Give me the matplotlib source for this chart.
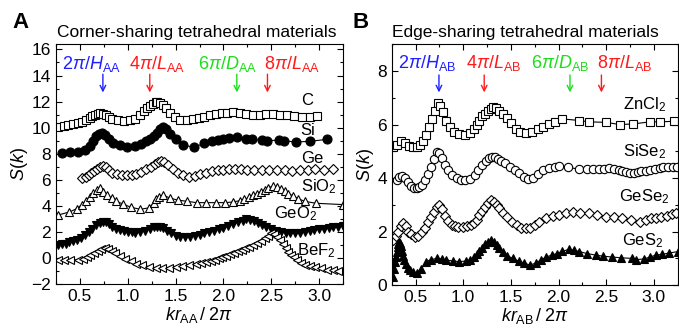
import matplotlib
matplotlib.use("Agg")
import matplotlib.pyplot as plt
from matplotlib.ticker import MultipleLocator

plt.rcParams['font.family'] = ['Liberation Sans', 'DejaVu Sans']
plt.rcParams['mathtext.fontset'] = 'custom'
plt.rcParams['mathtext.rm'] = 'Liberation Sans'
plt.rcParams['mathtext.it'] = 'Liberation Sans:italic'
plt.rcParams['mathtext.bf'] = 'Liberation Sans:bold'

# ---- panel A: corner-sharing ----
c_x = [0.27, 0.33, 0.38, 0.43, 0.48, 0.52, 0.56, 0.60, 0.63, 0.66, 0.69, 0.71, 0.74, 0.77, 0.80, 0.84, 0.90, 0.96,
       1.02, 1.08, 1.13, 1.17, 1.20, 1.23, 1.26, 1.29, 1.31, 1.34, 1.37, 1.40, 1.44, 1.49, 1.55, 1.62, 1.68, 1.74,
       1.80, 1.86, 1.92, 1.98, 2.04, 2.10, 2.17, 2.24, 2.31, 2.38, 2.45, 2.52, 2.59, 2.66, 2.74, 2.82, 2.90, 2.98]
c_y = [10.06, 10.12, 10.2, 10.28, 10.35, 10.45, 10.6, 10.75, 10.88, 10.98, 11.05, 11.1, 11.05, 10.95, 10.8, 10.7,
       10.6, 10.52, 10.55, 10.7, 10.95, 11.25, 11.5, 11.7, 11.85, 11.95, 11.98, 11.9, 11.75, 11.5, 11.15, 10.85,
       10.62, 10.58, 10.65, 10.75, 10.85, 10.95, 11.02, 11.1, 11.15, 11.19, 11.12, 11.05, 11.0, 11.0, 11.02, 11.05,
       11.0, 10.95, 10.88, 10.85, 10.85, 10.88]

si_x = [0.31, 0.40, 0.48, 0.55, 0.60, 0.64, 0.67, 0.70, 0.73, 0.76, 0.80, 0.85, 0.92, 0.99, 1.08, 1.14, 1.19, 1.23,
        1.27, 1.31, 1.34, 1.37, 1.40, 1.44, 1.50, 1.58, 1.69, 1.80, 1.88, 1.94, 2.00, 2.06, 2.14, 2.24, 2.30, 2.40,
        2.46, 2.58, 2.63, 2.76, 2.90, 3.08]
si_y = [8.07, 8.1, 8.12, 8.3, 8.6, 8.95, 9.35, 9.5, 9.58, 9.4, 9.1, 8.85, 8.65, 8.53, 8.58, 8.75, 8.95, 9.15, 9.35,
        9.6, 9.9, 10.06, 9.9, 9.55, 9.1, 8.66, 8.5, 8.8, 8.95, 9.05, 9.1, 9.2, 9.3, 9.15, 9.1, 9.05, 9.0, 9.05, 9.0,
        8.9, 8.95, 9.1]

ge_x = [0.52, 0.56, 0.59, 0.62, 0.65, 0.68, 0.71, 0.74, 0.77, 0.80, 0.84, 0.89, 0.94, 0.99, 1.04, 1.09, 1.14, 1.19,
        1.24, 1.28, 1.32, 1.35, 1.38, 1.42, 1.47, 1.52, 1.58, 1.64, 1.70, 1.76, 1.82, 1.88, 1.94, 2.00, 2.06, 2.12,
        2.18, 2.25, 2.32, 2.40, 2.48, 2.56, 2.64, 2.72, 2.80, 2.88, 2.96, 3.05, 3.14]
ge_y = [6.11, 6.25, 6.4, 6.55, 6.7, 6.85, 6.95, 7.05, 6.95, 6.75, 6.55, 6.42, 6.38, 6.36, 6.38, 6.45, 6.6, 6.8, 7.0,
        7.2, 7.35, 7.46, 7.4, 7.15, 6.85, 6.55, 6.35, 6.23, 6.3, 6.45, 6.55, 6.65, 6.72, 6.78, 6.82, 6.85, 6.82, 6.78,
        6.75, 6.75, 6.72, 6.75, 6.72, 6.7, 6.72, 6.75, 6.8, 6.78, 6.8]

sio2_x = [0.27, 0.39, 0.47, 0.52, 0.56, 0.60, 0.64, 0.68, 0.71, 0.74, 0.78, 0.83, 0.88, 0.95, 1.03, 1.13, 1.22, 1.27,
          1.30, 1.33, 1.37, 1.44, 1.52, 1.62, 1.72, 1.82, 1.92, 2.02, 2.10, 2.17, 2.22, 2.27, 2.31, 2.35, 2.39, 2.43,
          2.47, 2.52, 2.56, 2.60, 2.64, 2.68, 2.73, 2.78, 2.85, 2.97, 3.25]
sio2_y = [3.3, 3.53, 3.8, 4.1, 4.4, 4.7, 5.0, 5.2, 5.34, 5.1, 4.85, 4.6, 4.35, 4.15, 3.9, 3.74, 3.85, 4.2, 4.5, 4.7,
          4.83, 4.6, 4.45, 4.35, 4.25, 4.25, 4.25, 4.25, 4.3, 4.4, 4.5, 4.65, 4.8, 4.95, 5.1, 5.25, 5.4, 5.52, 5.45,
          5.3, 5.15, 4.95, 4.75, 4.55, 4.35, 4.2, 4.1]

geo2_x = [0.27, 0.31, 0.35, 0.39, 0.43, 0.47, 0.51, 0.55, 0.59, 0.63, 0.67, 0.71, 0.74, 0.77, 0.80, 0.84, 0.88, 0.92,
          0.96, 1.00, 1.04, 1.08, 1.13, 1.18, 1.23, 1.27, 1.31, 1.34, 1.37, 1.41, 1.45, 1.50, 1.55, 1.60, 1.65, 1.70,
          1.75, 1.80, 1.85, 1.90, 1.95, 2.00, 2.05, 2.10, 2.15, 2.20, 2.24, 2.28, 2.32, 2.36, 2.40, 2.45, 2.50, 2.55,
          2.60, 2.65, 2.70, 2.75, 2.80, 2.85, 2.90, 2.95, 3.00, 3.05, 3.10, 3.15, 3.20, 3.25]
geo2_y = [1.0, 1.05, 1.1, 1.2, 1.3, 1.4, 1.55, 1.75, 2.0, 2.25, 2.5, 2.7, 2.78, 2.75, 2.6, 2.4, 2.25, 2.15, 2.08,
          2.02, 1.98, 1.95, 1.98, 2.1, 2.25, 2.35, 2.4, 2.38, 2.3, 2.1, 1.9, 1.72, 1.63, 1.6, 1.63, 1.7, 1.8, 1.9,
          2.0, 2.1, 2.2, 2.3, 2.45, 2.6, 2.75, 2.88, 2.99, 2.95, 2.85, 2.7, 2.55, 2.4, 2.25, 2.1, 2.0, 1.95, 1.92,
          1.9, 1.95, 2.0, 2.1, 2.15, 2.2, 2.25, 2.3, 2.35, 2.4, 2.42]

bef2_x = [0.27, 0.33, 0.40, 0.48, 0.53, 0.57, 0.61, 0.65, 0.69, 0.72, 0.76, 0.79, 0.83, 0.87, 0.92, 0.97, 1.03, 1.09,
          1.15, 1.22, 1.29, 1.36, 1.43, 1.50, 1.57, 1.64, 1.71, 1.77, 1.82, 1.87, 1.91, 1.95, 1.99, 2.03, 2.07, 2.11,
          2.15, 2.19, 2.23, 2.27, 2.31, 2.35, 2.39, 2.43, 2.47, 2.50, 2.53, 2.56, 2.59, 2.62, 2.65, 2.68, 2.71, 2.74,
          2.77, 2.81, 2.85, 2.90, 2.96, 3.02, 3.08, 3.14, 3.20]
bef2_y = [-0.15, -0.15, -0.15, -0.15, -0.05, 0.1, 0.25, 0.4, 0.55, 0.68, 0.74, 0.7, 0.55, 0.35, 0.15, -0.05, -0.25,
          -0.42, -0.55, -0.65, -0.75, -0.79, -0.75, -0.68, -0.6, -0.52, -0.45, -0.38, -0.3, -0.22, -0.12, -0.02,
          0.08, 0.18, 0.3, 0.42, 0.52, 0.62, 0.75, 0.88, 1.0, 1.13, 1.3, 1.5, 1.72, 1.9, 1.85, 1.65, 1.4, 1.1, 0.8,
          0.5, 0.25, 0.05, -0.15, -0.35, -0.5, -0.62, -0.72, -0.8, -0.88, -0.95, -1.02]

# ---- panel B: edge-sharing ----
zncl2_x = [0.26, 0.30, 0.35, 0.39, 0.43, 0.47, 0.51, 0.55, 0.58, 0.61, 0.64, 0.67, 0.70, 0.73, 0.76, 0.79, 0.82,
           0.86, 0.90, 0.96, 1.02, 1.07, 1.11, 1.14, 1.17, 1.20, 1.23, 1.26, 1.29, 1.31, 1.34, 1.38, 1.42, 1.46,
           1.50, 1.55, 1.60, 1.66, 1.72, 1.78, 1.84, 1.90, 1.96, 2.04, 2.22, 2.32, 2.50, 2.64, 2.78, 2.96, 3.06, 3.21]
zncl2_y = [5.17, 5.25, 5.38, 5.3, 5.2, 5.15, 5.15, 5.25, 5.4, 5.6, 5.9, 6.2, 6.5, 6.79, 6.7, 6.45, 6.15, 5.9, 5.72,
           5.65, 5.62, 5.7, 5.85, 6.0, 6.15, 6.3, 6.4, 6.5, 6.58, 6.64, 6.6, 6.5, 6.4, 6.25, 6.05, 5.85, 5.72, 5.69,
           5.72, 5.82, 5.92, 6.02, 6.1, 6.21, 6.15, 6.1, 6.08, 6.0, 6.02, 6.1, 6.1, 6.12]

sise2_x = [0.30, 0.33, 0.36, 0.39, 0.42, 0.45, 0.48, 0.51, 0.54, 0.57, 0.60, 0.63, 0.66, 0.69, 0.72, 0.75, 0.78,
           0.81, 0.84, 0.88, 0.93, 0.98, 1.02, 1.07, 1.12, 1.16, 1.20, 1.24, 1.27, 1.30, 1.33, 1.36, 1.40, 1.44,
           1.49, 1.54, 1.59, 1.64, 1.68, 1.73, 1.78, 1.84, 1.90, 1.96, 2.01, 2.10, 2.22, 2.30, 2.36, 2.42, 2.48,
           2.53, 2.58, 2.63, 2.67, 2.71, 2.75, 2.79, 2.83, 2.87, 2.92, 2.96, 3.01, 3.06, 3.10, 3.15, 3.20, 3.24]
sise2_y = [3.93, 4.05, 4.08, 4.0, 3.85, 3.72, 3.63, 3.61, 3.65, 3.75, 3.92, 4.15, 4.4, 4.7, 4.98, 4.95, 4.75, 4.5,
           4.3, 4.12, 3.99, 3.93, 3.93, 3.98, 4.1, 4.3, 4.5, 4.65, 4.75, 4.8, 4.78, 4.72, 4.63, 4.55, 4.42, 4.3,
           4.18, 4.05, 3.96, 4.0, 4.15, 4.3, 4.38, 4.42, 4.45, 4.4, 4.33, 4.32, 4.33, 4.33, 4.35, 4.36, 4.33, 4.3,
           4.27, 4.23, 4.2, 4.2, 4.22, 4.25, 4.27, 4.3, 4.35, 4.38, 4.4, 4.4, 4.42, 4.4]

gese2_x = [0.26, 0.29, 0.32, 0.35, 0.37, 0.40, 0.42, 0.45, 0.49, 0.53, 0.57, 0.60, 0.63, 0.66, 0.69, 0.72, 0.75,
           0.78, 0.81, 0.84, 0.88, 0.91, 0.95, 1.00, 1.04, 1.08, 1.11, 1.14, 1.17, 1.20, 1.23, 1.26, 1.29, 1.32,
           1.35, 1.38, 1.42, 1.46, 1.51, 1.56, 1.61, 1.66, 1.70, 1.75, 1.80, 1.87, 1.94, 2.01, 2.08, 2.15, 2.23,
           2.32, 2.40, 2.50, 2.58, 2.67, 2.76, 2.85, 2.92, 2.97, 3.02, 3.08, 3.14, 3.19, 3.23]
gese2_y = [1.69, 1.85, 2.0, 2.2, 2.31, 2.2, 2.0, 1.9, 1.81, 1.85, 2.0, 2.15, 2.35, 2.56, 2.75, 2.9, 3.0, 2.85, 2.6,
           2.4, 2.25, 2.2, 2.18, 2.19, 2.2, 2.25, 2.31, 2.45, 2.62, 2.78, 2.92, 3.05, 3.18, 3.12, 3.0, 2.87, 2.7,
           2.55, 2.37, 2.25, 2.15, 2.12, 2.15, 2.25, 2.37, 2.5, 2.58, 2.62, 2.68, 2.75, 2.7, 2.69, 2.62, 2.56, 2.55,
           2.5, 2.45, 2.37, 2.42, 2.5, 2.5, 2.55, 2.6, 2.65, 2.69]

ges2_x = [0.26, 0.27, 0.28, 0.29, 0.30, 0.31, 0.32, 0.33, 0.34, 0.35, 0.36, 0.37, 0.38, 0.40, 0.42, 0.44, 0.47,
          0.51, 0.56, 0.61, 0.66, 0.72, 0.78, 0.82, 0.89, 0.96, 1.03, 1.07, 1.11, 1.14, 1.17, 1.20, 1.23, 1.26,
          1.29, 1.32, 1.35, 1.38, 1.42, 1.46, 1.52, 1.58, 1.64, 1.70, 1.76, 1.82, 1.87, 1.93, 1.98, 2.04, 2.11,
          2.16, 2.22, 2.30, 2.39, 2.47, 2.56, 2.66, 2.77, 2.81, 2.90, 2.96, 3.02, 3.09, 3.16, 3.25]
ges2_y = [0.32, 0.6, 0.85, 1.05, 1.25, 1.42, 1.55, 1.62, 1.58, 1.45, 1.28, 1.1, 0.95, 0.78, 0.65, 0.56, 0.5, 0.44,
          0.6, 0.88, 0.95, 1.0, 0.98, 0.94, 0.9, 0.88, 0.9, 0.94, 1.05, 1.15, 1.28, 1.4, 1.52, 1.62, 1.69, 1.62,
          1.5, 1.37, 1.25, 1.1, 1.0, 0.9, 0.82, 0.75, 0.82, 0.95, 1.05, 1.12, 1.18, 1.26, 1.34, 1.3, 1.25, 1.18,
          1.12, 1.08, 1.05, 1.02, 1.0, 0.95, 0.98, 1.05, 1.12, 1.15, 1.2, 1.25]

# arrows: x positions of the characteristic peaks
arrow_a = [0.74, 1.23, 2.14, 2.46]
arrow_b = [0.745, 1.22, 2.12, 2.45]
arrow_colors = ['#1f1fff', '#ff1a1a', '#1adf1a', '#ff1a1a']
labels_a = [r'$2\pi/\mathit{H}_{\mathrm{AA}}$', r'$4\pi/\mathit{L}_{\mathrm{AA}}$',
            r'$6\pi/\mathit{D}_{\mathrm{AA}}$', r'$8\pi/\mathit{L}_{\mathrm{AA}}$']
labels_b = [r'$2\pi/\mathit{H}_{\mathrm{AB}}$', r'$4\pi/\mathit{L}_{\mathrm{AB}}$',
            r'$6\pi/\mathit{D}_{\mathrm{AB}}$', r'$8\pi/\mathit{L}_{\mathrm{AB}}$']
label_x_a = [0.625, 1.31, 2.04, 2.72]
label_x_b = [0.62, 1.32, 2.02, 2.69]


def style_axes(ax, ymin, ymax):
    ax.set_xlim(0.25, 3.25)
    ax.set_ylim(ymin, ymax)
    ax.xaxis.set_major_locator(MultipleLocator(0.5))
    ax.xaxis.set_minor_locator(MultipleLocator(0.25))
    ax.yaxis.set_major_locator(MultipleLocator(2))
    ax.yaxis.set_minor_locator(MultipleLocator(1))
    ax.tick_params(which='both', direction='in', top=True, right=True, labelsize=12.5, width=0.8)
    ax.tick_params(which='major', length=4)
    ax.tick_params(which='minor', length=2.5)
    for s in ax.spines.values():
        s.set_linewidth(0.8)
    ax.set_ylabel(r'$S(\mathit{k})$', fontsize=13, labelpad=1)


def series(ax, x, y, marker, filled, ms=6):
    ax.plot(x, y, color='black', lw=0.8, marker=marker, ms=ms,
            mfc='black' if filled else 'white', mec='black', mew=0.8, clip_on=True)


fig = plt.figure(figsize=(6.79, 3.30), dpi=100)
axA = fig.add_axes([0.0825, 0.139, 0.4227, 0.727])
axB = fig.add_axes([0.577, 0.136, 0.421, 0.730])

series(axA, c_x, c_y, 's', False)
series(axA, si_x, si_y, 'o', True, 6.5)
series(axA, ge_x, ge_y, 'D', False, 5.5)
series(axA, sio2_x, sio2_y, '^', False)
series(axA, geo2_x, geo2_y, 'v', True)
series(axA, bef2_x, bef2_y, '<', False)
style_axes(axA, -2, 16.4)
axA.set_xlabel(r'$\mathit{kr}_{\mathrm{AA}}\,/\;2\pi$', fontsize=13, labelpad=1)

for xl, (xa, col, lab) in zip(label_x_a, zip(arrow_a, arrow_colors, labels_a)):
    axA.text(xl, 14.9, lab, color=col, fontsize=13, ha='center', va='center')
    axA.annotate('', xy=(xa, 12.7), xytext=(xa, 14.1),
                 arrowprops=dict(arrowstyle='->', color=col, lw=1.0, shrinkA=0, shrinkB=0))

for name, xt, yt in [('C', 2.87, 12.1), ('Si', 2.88, 9.8), (r'Ge', 2.93, 7.6),
                     (r'SiO$_2$', 3.0, 5.45), (r'GeO$_2$', 2.75, 3.4), (r'BeF$_2$', 2.97, 0.6)]:
    axA.text(xt, yt, name, fontsize=12, ha='center', va='center')

series(axB, zncl2_x, zncl2_y, 's', False)
series(axB, sise2_x, sise2_y, 'o', False)
series(axB, gese2_x, gese2_y, 'D', False, 5.5)
series(axB, ges2_x, ges2_y, '^', True)
style_axes(axB, 0, 9)
axB.set_xlabel(r'$\mathit{kr}_{\mathrm{AB}}\,/\;2\pi$', fontsize=13, labelpad=1)

for xl, (xa, col, lab) in zip(label_x_b, zip(arrow_b, arrow_colors, labels_b)):
    axB.text(xl, 8.3, lab, color=col, fontsize=13, ha='center', va='center')
    axB.annotate('', xy=(xa, 7.2), xytext=(xa, 7.85),
                 arrowprops=dict(arrowstyle='->', color=col, lw=1.0, shrinkA=0, shrinkB=0))

for name, xt, yt in [(r'ZnCl$_2$', 2.9, 6.75), (r'SiSe$_2$', 2.9, 5.0),
                     (r'GeSe$_2$', 2.9, 3.3), (r'GeS$_2$', 2.88, 1.65)]:
    axB.text(xt, yt, name, fontsize=12, ha='center', va='center')

fig.text(57 / 679, 1 - 33 / 330, 'Corner-sharing tetrahedral materials', fontsize=12.5, ha='left', va='center')
fig.text(392 / 679, 1 - 33 / 330, 'Edge-sharing tetrahedral materials', fontsize=12.5, ha='left', va='center')
fig.text(12 / 679, 1 - 22 / 330, 'A', fontsize=16, fontweight='bold', ha='left', va='center')
fig.text(353 / 679, 1 - 22 / 330, 'B', fontsize=16, fontweight='bold', ha='left', va='center')

fig.savefig('out.png', dpi=100)
